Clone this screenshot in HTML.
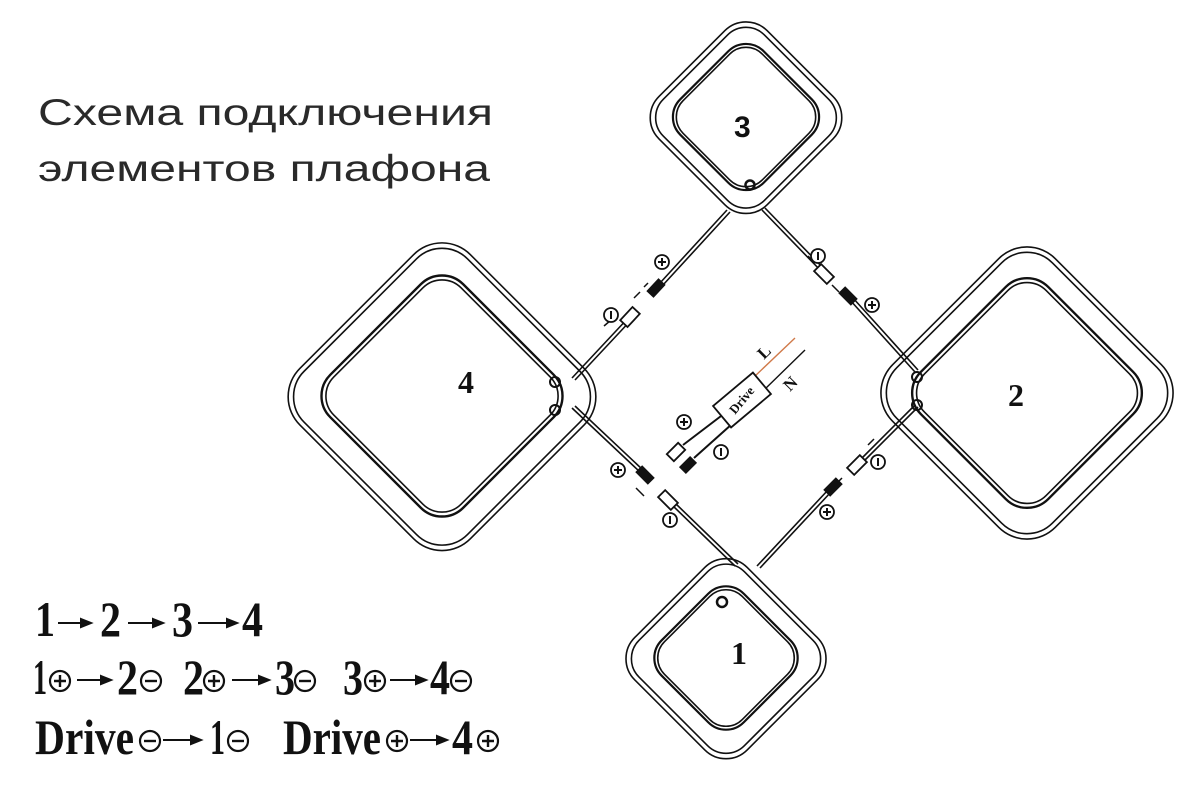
<!DOCTYPE html>
<html><head><meta charset="utf-8"><style>
html,body{margin:0;padding:0;background:#fff;}
svg{display:block}
.t{font-family:"Liberation Serif",serif;font-weight:bold;font-size:50px;fill:#111}
</style></head><body>
<svg width="1200" height="789" viewBox="0 0 1200 789" xmlns="http://www.w3.org/2000/svg">
<defs>
<g id="plus"><circle r="10" fill="#fff" stroke="#111" stroke-width="2.2"/><path d="M-6 0H6M0 -6V6" stroke="#111" stroke-width="2.4"/></g>
<g id="minus"><circle r="10" fill="#fff" stroke="#111" stroke-width="2.2"/><path d="M-6 0H6" stroke="#111" stroke-width="2.4"/></g>
<g id="splus"><circle r="7" fill="#fff" stroke="#111" stroke-width="1.8"/><path d="M-4 0H4M0 -4V4" stroke="#111" stroke-width="2"/></g>
<g id="sminus"><circle r="7" fill="#fff" stroke="#111" stroke-width="1.8"/><path d="M0 -4V4" stroke="#111" stroke-width="2"/></g>
</defs>

<text x="38" y="125" textLength="455" lengthAdjust="spacingAndGlyphs" font-family="Liberation Sans, sans-serif" font-size="37" fill="#2a2a2a">Схема подключения</text>
<text x="38" y="181" textLength="452" lengthAdjust="spacingAndGlyphs" font-family="Liberation Sans, sans-serif" font-size="37" fill="#2a2a2a">элементов плафона</text>

<g fill="none" stroke="#111" stroke-width="1.6">
<!-- square 3 -->
<g transform="translate(746,117) rotate(45)">
<rect x="-76" y="-76" width="153" height="153" rx="30"/>
<rect x="-71" y="-71" width="143" height="143" rx="26"/>
<rect x="-59" y="-59" width="118" height="118" rx="25" stroke-width="2.2"/>
<rect x="-56" y="-56" width="112" height="112" rx="23"/>
</g>
<!-- square 4 -->
<g transform="translate(442,396) rotate(45)">
<rect x="-120" y="-120" width="241" height="241" rx="40"/>
<rect x="-115" y="-115" width="231" height="231" rx="36"/>
<rect x="-94" y="-94" width="188" height="188" rx="30" stroke-width="2.4"/>
<rect x="-90" y="-90" width="180" height="180" rx="27"/>
</g>
<!-- square 2 -->
<g transform="translate(1027,393) rotate(45)">
<rect x="-115" y="-115" width="230" height="230" rx="40"/>
<rect x="-110" y="-110" width="220" height="220" rx="36"/>
<rect x="-90" y="-90" width="180" height="180" rx="30" stroke-width="2.4"/>
<rect x="-86" y="-86" width="172" height="172" rx="27"/>
</g>
<!-- square 1 -->
<g transform="translate(726,658) rotate(45)">
<rect x="-79" y="-79" width="159" height="159" rx="30"/>
<rect x="-74" y="-74" width="149" height="149" rx="26"/>
<rect x="-58" y="-58" width="116" height="116" rx="25" stroke-width="2.2"/>
<rect x="-55" y="-55" width="110" height="110" rx="23"/>
</g>
<!-- small holes -->
<circle cx="750" cy="185" r="4.5" stroke-width="2.5"/>
<circle cx="555" cy="382" r="5" stroke-width="2"/>
<circle cx="555" cy="410" r="5" stroke-width="2"/>
<circle cx="917" cy="377" r="5" stroke-width="2"/>
<circle cx="917" cy="405" r="5" stroke-width="2"/>
<circle cx="722" cy="602" r="5" stroke-width="2.5"/>

<!-- wires (double) -->
<path d="M727 210 L660 283 M730 212 L663 285"/>
<path d="M630 316 L572 378 M633 318 L575 380"/>
<path d="M762 210 L822 272 M765 208 L825 270"/>
<path d="M850 300 L915 372 M853 298 L918 370"/>
<path d="M572 408 L640 472 M575 406 L643 470"/>
<path d="M672 505 L735 566 M675 503 L738 564"/>
<path d="M915 405 L860 460 M918 407 L863 462"/>
<path d="M828 490 L757 566 M831 492 L760 568"/>
<!-- dashes -->
<path d="M640 292 L634 298 M644 287 L648 283 M611 320 L604 326 M808 256 L815 263 M832 285 L839 292 M636 488 L644 496 M666 517 L672 523 M842 478 L836 484 M868 445 L874 439" stroke-width="1.5"/>
<!-- drive wires -->
<path d="M725 413 L683 445 M732 424 L694 458" stroke-width="2"/>
<path d="M754 377 L795 338" stroke="#d07a4a" stroke-width="1.4"/>
<path d="M764 390 L805 350" stroke-width="1.4"/>
</g>

<!-- connectors -->
<g stroke="#111" stroke-width="1.8">
<rect x="-8" y="-4" width="16" height="8" fill="#111" transform="translate(656,288) rotate(-47)"/>
<rect x="-9" y="-5" width="18" height="10" fill="#fff" transform="translate(630,317) rotate(-47)"/>
<rect x="-9" y="-5" width="18" height="10" fill="#fff" transform="translate(824,274) rotate(45)"/>
<rect x="-8" y="-4" width="16" height="8" fill="#111" transform="translate(848,296) rotate(45)"/>
<rect x="-8" y="-4" width="16" height="8" fill="#111" transform="translate(645,475) rotate(45)"/>
<rect x="-9" y="-5" width="18" height="10" fill="#fff" transform="translate(668,500) rotate(45)"/>
<rect x="-9" y="-5" width="18" height="10" fill="#fff" transform="translate(857,465) rotate(-45)"/>
<rect x="-8" y="-4" width="16" height="8" fill="#111" transform="translate(833,487) rotate(-45)"/>
<rect x="-8" y="-5" width="16" height="10" fill="#fff" transform="translate(676,452) rotate(-45)"/>
<rect x="-7" y="-4" width="14" height="8" fill="#111" transform="translate(688,465) rotate(-45)"/>
<rect x="-26" y="-14" width="52" height="28" fill="#fff" transform="translate(742,400) rotate(-40)"/>
</g>
<text transform="translate(745,403) rotate(-50)" text-anchor="middle" font-family="Liberation Serif,serif" font-weight="bold" font-size="13" fill="#111">Drive</text>
<text transform="translate(764,360) rotate(-45)" font-family="Liberation Serif,serif" font-weight="bold" font-size="17" fill="#111">L</text>
<text transform="translate(790,392) rotate(-45)" font-family="Liberation Serif,serif" font-weight="bold" font-size="17" fill="#111">N</text>
<use href="#splus" x="662" y="262"/>
<use href="#sminus" x="611" y="315"/>
<use href="#sminus" x="818" y="256"/>
<use href="#splus" x="872" y="305"/>
<use href="#splus" x="618" y="470"/>
<use href="#sminus" x="670" y="520"/>
<use href="#sminus" x="878" y="462"/>
<use href="#splus" x="827" y="512"/>
<use href="#splus" x="684" y="422"/>
<use href="#sminus" x="721" y="452"/>

<!-- numbers -->
<text x="734" y="137" font-family="Liberation Sans,sans-serif" font-weight="bold" font-size="30" fill="#111">3</text>
<text x="458" y="393" font-family="Liberation Serif,serif" font-weight="bold" font-size="32" fill="#111">4</text>
<text x="1008" y="406" font-family="Liberation Serif,serif" font-weight="bold" font-size="32" fill="#111">2</text>
<text x="731" y="664" font-family="Liberation Serif,serif" font-weight="bold" font-size="32" fill="#111">1</text>

<!-- formulas -->
<g class="t">
<text x="35" y="636" textLength="20" lengthAdjust="spacingAndGlyphs">1</text>
<text x="100" y="636" textLength="21" lengthAdjust="spacingAndGlyphs">2</text>
<text x="172" y="636" textLength="21" lengthAdjust="spacingAndGlyphs">3</text>
<text x="242" y="636" textLength="21" lengthAdjust="spacingAndGlyphs">4</text>
<text x="33" y="694" textLength="14" lengthAdjust="spacingAndGlyphs">1</text>
<text x="117" y="694" textLength="21" lengthAdjust="spacingAndGlyphs">2</text>
<text x="183" y="694" textLength="21" lengthAdjust="spacingAndGlyphs">2</text>
<text x="275" y="694" textLength="20" lengthAdjust="spacingAndGlyphs">3</text>
<text x="343" y="694" textLength="20" lengthAdjust="spacingAndGlyphs">3</text>
<text x="430" y="694" textLength="20" lengthAdjust="spacingAndGlyphs">4</text>
<text x="35" y="754" textLength="99" lengthAdjust="spacingAndGlyphs">Drive</text>
<text x="210" y="754" textLength="15" lengthAdjust="spacingAndGlyphs">1</text>
<text x="283" y="754" textLength="98" lengthAdjust="spacingAndGlyphs">Drive</text>
<text x="452" y="754" textLength="21" lengthAdjust="spacingAndGlyphs">4</text>
</g>
<g stroke="#111" stroke-width="2" fill="#111">
<path d="M58 623 H82"/><path d="M81 619 L91 623 L81 627Z"/>
<path d="M128 623 H154"/><path d="M153 619 L163 623 L153 627Z"/>
<path d="M198 623 H228"/><path d="M227 619 L237 623 L227 627Z"/>
<path d="M77 680 H102"/><path d="M101 676 L111 680 L101 684Z"/>
<path d="M232 680 H260"/><path d="M259 676 L269 680 L259 684Z"/>
<path d="M390 680 H417"/><path d="M416 676 L426 680 L416 684Z"/>
<path d="M163 740 H192"/><path d="M191 736 L201 740 L191 744Z"/>
<path d="M410 740 H438"/><path d="M437 736 L447 740 L437 744Z"/>
</g>
<use href="#plus" x="60" y="681"/>
<use href="#minus" x="151" y="681"/>
<use href="#plus" x="214" y="681"/>
<use href="#minus" x="305" y="681"/>
<use href="#plus" x="375" y="681"/>
<use href="#minus" x="461" y="681"/>
<use href="#minus" x="150" y="741"/>
<use href="#minus" x="238" y="741"/>
<use href="#plus" x="397" y="741"/>
<use href="#plus" x="488" y="741"/>
</svg>
</body></html>
